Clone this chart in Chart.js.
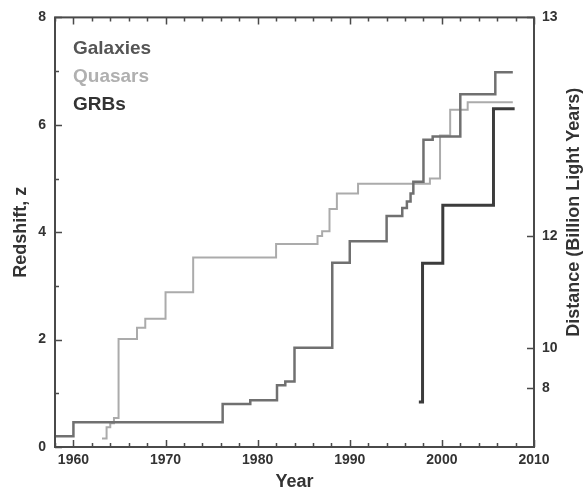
<!DOCTYPE html>
<html>
<head>
<meta charset="utf-8">
<script src="https://cdn.jsdelivr.net/npm/chart.js@4.4.1/dist/chart.umd.min.js"></script>
<style>
  html, body { margin: 0; padding: 0; background: #fff; }
  #wrap { width: 584px; height: 495px; }
</style>
</head>
<body>
<div id="wrap"><canvas id="redshift-chart" width="584" height="495"></canvas></div>
<script>
// Record redshift by year: each point is (year of a new record, new redshift), last point ends the line
const galaxyYears = [1958, 1960, 1976.2, 1979.2, 1982.1, 1983, 1984, 1988.1, 1990, 1994, 1995.7, 1996.2, 1996.6, 1996.9, 1998, 1999, 2002, 2005.8, 2007.7];
const galaxyZ     = [0.2, 0.46, 0.8, 0.87, 1.15, 1.22, 1.85, 3.43, 3.83, 4.3, 4.45, 4.57, 4.72, 4.94, 5.72, 5.78, 6.57, 6.98, 6.98];

const quasarYears = [1963.1, 1963.6, 1964, 1964.4, 1964.9, 1966.9, 1967.8, 1970, 1973, 1982, 1986.5, 1987, 1987.8, 1988.6, 1990.9, 1998.7, 1999.8, 2000.9, 2002.8, 2007.7];
const quasarZ     = [0.16, 0.37, 0.44, 0.54, 2.01, 2.22, 2.39, 2.88, 3.53, 3.78, 3.93, 4.02, 4.43, 4.72, 4.9, 5.0, 5.8, 6.28, 6.42, 6.42];

const grbYears = [1997.5, 1997.9, 2000.1, 2005.6, 2007.9];
const grbZ     = [0.84, 3.42, 4.5, 6.3, 6.3];

// Axis labels
const yearTicks = [1960, 1970, 1980, 1990, 2000, 2010];
const redshiftTicks = [0, 2, 4, 6, 8];
const distanceLabels = [8, 10, 12, 13];      // billion light years
const distanceAtZ = [1.1, 1.85, 3.93, 8];    // redshift where each distance sits

function toPoints(xs, ys) {
    return xs.map((x, i) => ({ x: x, y: ys[i] }));
}

const tickFont = { family: 'Liberation Sans, Arial, sans-serif', size: 14, weight: 'bold' };
const titleFont = { family: 'Liberation Sans, Arial, sans-serif', size: 18, weight: 'bold' };

// Frame, inward tick marks, in-plot legend and right axis title
const framePlugin = {
    id: 'frame',
    afterDraw(chart) {
        const c = chart.ctx;
        const a = chart.chartArea;
        const xs = chart.scales.x, ys = chart.scales.y, ys2 = chart.scales.y2;
        c.save();
        c.strokeStyle = '#4a4a4a';
        c.lineWidth = 2;
        c.strokeRect(a.left, a.top, a.right - a.left, a.bottom - a.top);
        c.lineWidth = 1.5;
        c.beginPath();
        for (let yr = xs.min; yr <= xs.max; yr += 2) {
            const px = Math.round(xs.getPixelForValue(yr)) + 0.5;
            const len = yr % 10 === 0 ? 7 : 4;
            c.moveTo(px, a.bottom); c.lineTo(px, a.bottom - len);
            c.moveTo(px, a.top); c.lineTo(px, a.top + len);
        }
        for (let z = ys.min; z <= ys.max; z += 1) {
            const py = Math.round(ys.getPixelForValue(z)) + 0.5;
            const len = z % 2 === 0 ? 7 : 4;
            c.moveTo(a.left, py); c.lineTo(a.left + len, py);
        }
        distanceAtZ.forEach(z => {
            const py = Math.round(ys2.getPixelForValue(z)) + 0.5;
            c.moveTo(a.right, py); c.lineTo(a.right - 7, py);
        });
        c.stroke();

        // legend as coloured words
        c.font = 'bold 19px "Liberation Sans", Arial, sans-serif';
        c.textBaseline = 'middle';
        c.textAlign = 'left';
        chart.data.datasets.forEach((ds, i) => {
            c.fillStyle = ds.legendColor;
            c.fillText(ds.label, a.left + 18, a.top + 31 + i * 28);
        });

        // right title reads bottom to top, like the left one
        c.font = 'bold 18px "Liberation Sans", Arial, sans-serif';
        c.fillStyle = '#333';
        c.textAlign = 'center';
        c.translate(ys2.right - 10, (a.top + a.bottom) / 2 - 20);
        c.rotate(-Math.PI / 2);
        c.fillText('Distance (Billion Light Years)', 0, 0);
        c.restore();
    }
};

const ctx = document.getElementById('redshift-chart').getContext('2d');
const myChart = new Chart(ctx, {
    type: 'line',
    data: {
        datasets: [{
            label: 'Galaxies',
            data: toPoints(galaxyYears, galaxyZ),
            borderColor: '#707070',
            legendColor: '#555555',
            borderWidth: 2.5
        }, {
            label: 'Quasars',
            data: toPoints(quasarYears, quasarZ),
            borderColor: '#ababab',
            legendColor: '#b0b0b0',
            borderWidth: 2
        }, {
            label: 'GRBs',
            data: toPoints(grbYears, grbZ),
            borderColor: '#3c3c3c',
            legendColor: '#333333',
            borderWidth: 3
        }]
    },
    options: {
        responsive: false,
        animation: false,
        devicePixelRatio: 1,
        layout: { padding: { top: 15, left: 0, right: 0, bottom: 0 } },
        elements: {
            line: { stepped: 'before', fill: false },
            point: { radius: 0 }
        },
        plugins: {
            legend: { display: false },
            tooltip: { enabled: false }
        },
        scales: {
            x: {
                type: 'linear',
                min: 1958,
                max: 2010,
                afterBuildTicks: s => { s.ticks = yearTicks.map(v => ({ value: v })); },
                afterFit: s => { s.height = 48; },
                ticks: { font: tickFont, color: '#333', padding: 5, maxRotation: 0,
                         callback: v => String(v) },
                grid: { display: false, drawTicks: false },
                border: { display: false },
                title: { display: true, text: 'Year', font: titleFont, color: '#333',
                         padding: { top: 0, bottom: 2 } }
            },
            y: {
                type: 'linear',
                position: 'left',
                min: 0,
                max: 8,
                afterBuildTicks: s => { s.ticks = redshiftTicks.map(v => ({ value: v })); },
                afterFit: s => { s.width = 55; },
                ticks: { font: tickFont, color: '#333', padding: 9 },
                grid: { display: false, drawTicks: false },
                border: { display: false },
                title: { display: true, text: 'Redshift, z', font: titleFont, color: '#333',
                         padding: { top: 10, bottom: 0 } }
            },
            y2: {
                type: 'linear',
                position: 'right',
                min: 0,
                max: 8,
                afterBuildTicks: s => { s.ticks = distanceAtZ.map(v => ({ value: v })); },
                afterFit: s => { s.width = 50; },
                ticks: { font: tickFont, color: '#333', padding: 8,
                         callback: (v, i) => distanceLabels[i] },
                grid: { display: false, drawTicks: false },
                border: { display: false }
            }
        }
    },
    plugins: [framePlugin]
});
</script>
</body>
</html>
